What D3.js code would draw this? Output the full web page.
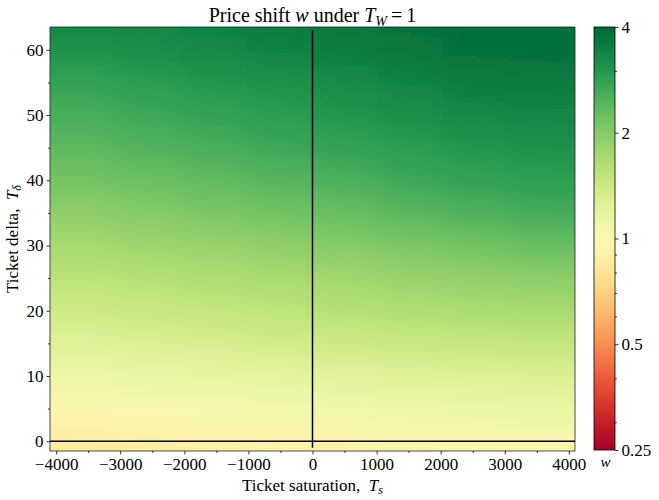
<!DOCTYPE html>
<html><head><meta charset="utf-8">
<script src="https://cdn.jsdelivr.net/npm/d3@7"></script>
<style>
body{margin:0;background:#fff;}
svg text{font-family:"Liberation Serif","Times New Roman",serif !important;fill:#000;}
</style></head>
<body><svg id="chart" width="659" height="500"></svg>
<script>
// ---- data ----
const tsCols = [-3584, -2560, -1536, -512, 512, 1536, 2560, 3584];
const deltaRows = [-1, 0, 5, 10, 15, 20, 25, 30, 35, 40, 45, 50, 55, 60, 63];
const w_dm1 = [0.835, 0.859, 0.883, 0.907, 0.933, 0.946, 0.959, 0.973];
const w_d0  = [0.871, 0.895, 0.920, 0.933, 0.946, 0.973, 0.986, 1.000];
const w_d5  = [0.973, 1.000, 1.028, 1.057, 1.087, 1.117, 1.133, 1.149];
const w_d10 = [1.117, 1.149, 1.165, 1.198, 1.231, 1.248, 1.265, 1.283];
const w_d15 = [1.248, 1.283, 1.320, 1.357, 1.395, 1.434, 1.454, 1.474];
const w_d20 = [1.395, 1.434, 1.474, 1.516, 1.580, 1.625, 1.670, 1.693];
const w_d25 = [1.537, 1.580, 1.647, 1.693, 1.765, 1.840, 1.892, 1.945];
const w_d30 = [1.717, 1.790, 1.840, 1.918, 2.000, 2.085, 2.173, 2.265];
const w_d35 = [1.918, 2.000, 2.085, 2.173, 2.265, 2.395, 2.496, 2.602];
const w_d40 = [2.143, 2.234, 2.329, 2.428, 2.531, 2.676, 2.789, 2.868];
const w_d45 = [2.362, 2.462, 2.566, 2.676, 2.789, 2.908, 3.031, 3.116];
const w_d50 = [2.566, 2.676, 2.789, 2.908, 3.031, 3.160, 3.294, 3.340];
const w_d55 = [2.789, 2.908, 3.031, 3.116, 3.249, 3.386, 3.531, 3.580];
const w_d60 = [3.100, 3.190, 3.300, 3.420, 3.530, 3.680, 3.800, 3.837];
const w_d63 = [3.250, 3.320, 3.420, 3.540, 3.640, 3.760, 3.850, 3.837];
const xTicks = [-4000, -3000, -2000, -1000, 0, 1000, 2000, 3000, 4000];
const xMinorTicks = [-3500, -2500, -1500, -500, 500, 1500, 2500, 3500];
const yTicks = [0, 10, 20, 30, 40, 50, 60];
const yMinorTicks = [5, 15, 25, 35, 45, 55];
const cbTicks = [0.25, 0.5, 1, 2, 4];
const cbTickLabels = ["0.25", "0.5", "1", "2", "4"];
const cbMinorTicks = [0.3, 0.4, 0.6, 0.7, 0.8, 0.9, 3];

const wGrid = [w_dm1, w_d0, w_d5, w_d10, w_d15, w_d20, w_d25, w_d30, w_d35, w_d40, w_d45, w_d50, w_d55, w_d60, w_d63];

// ---- layout ----
const FONT = "Liberation Serif";
const svg = d3.select("#chart");
const L = 50, R = 575, T = 27, B = 451;
const x = d3.scaleLinear().domain([-4096, 4096]).range([L, R]);
const y = d3.scaleLinear().domain([-1.5, 63.5]).range([B, T]);
const color = d3.scaleSequentialLog(d3.interpolateRdYlGn).domain([0.25, 4]);
const colStep = 1024;

const defs = svg.append("defs");
defs.append("clipPath").attr("id", "plotclip").append("rect")
  .attr("x", L).attr("y", T).attr("width", R - L).attr("height", B - T);
defs.append("filter").attr("id", "hblur").attr("filterUnits", "userSpaceOnUse")
  .attr("x", L - 150).attr("y", T - 10).attr("width", R - L + 300).attr("height", B - T + 20)
  .append("feGaussianBlur").attr("stdDeviation", "16 0");

// gradient per column (vertical, stops at the data rows)
const gy0 = y(deltaRows[0]), gy1 = y(deltaRows[deltaRows.length - 1]);
tsCols.forEach((c, ci) => {
  const g = defs.append("linearGradient").attr("id", "col" + ci)
    .attr("gradientUnits", "userSpaceOnUse")
    .attr("x1", 0).attr("x2", 0).attr("y1", gy0).attr("y2", gy1);
  deltaRows.forEach((d, ri) => {
    g.append("stop").attr("offset", (y(d) - gy0) / (gy1 - gy0))
      .attr("stop-color", color(wGrid[ri][ci]));
  });
});

const plot = svg.append("g").attr("clip-path", "url(#plotclip)");
const heat = plot.append("g").attr("filter", "url(#hblur)");
const last = tsCols.length - 1;
heat.selectAll("rect.col").data(tsCols).join("rect").attr("class", "col")
  .attr("x", (d, i) => (i === 0 ? x(d - colStep / 2) - 120 : x(d - colStep / 2)) - 0.5)
  .attr("width", (d, i) => x(d + colStep / 2) - x(d - colStep / 2) + 1 + (i === 0 || i === last ? 120 : 0))
  .attr("y", T).attr("height", B - T)
  .attr("fill", (d, i) => "url(#col" + i + ")");

// reference lines
plot.append("line").attr("x1", x(-4096)).attr("x2", x(4096))
  .attr("y1", y(0)).attr("y2", y(0)).attr("stroke", "#000").attr("stroke-width", 1.5);
plot.append("line").attr("x1", x(0)).attr("x2", x(0))
  .attr("y1", y(-1)).attr("y2", y(63)).attr("stroke", "#000").attr("stroke-width", 1.5);

// frame
svg.append("rect").attr("x", L).attr("y", T).attr("width", R - L).attr("height", B - T)
  .attr("fill", "none").attr("stroke", "#222").attr("stroke-width", 0.8);

// axes
const fs = 17;
function styleAxis(g) {
  g.attr("font-family", FONT).attr("font-size", fs);
  g.select(".domain").remove();
  g.selectAll(".tick line").attr("stroke", "#000").attr("stroke-width", 0.8);
  g.selectAll(".tick text").attr("font-family", FONT).attr("font-size", fs);
}
svg.append("g").attr("transform", `translate(0,${B})`)
  .call(d3.axisBottom(x).tickValues(xTicks).tickSize(3.5).tickPadding(3)
    .tickFormat(d => d < 0 ? "\u2212" + Math.abs(d) : String(d))).call(styleAxis);
svg.append("g").attr("transform", `translate(0,${B})`)
  .call(d3.axisBottom(x).tickValues(xMinorTicks).tickSize(2).tickFormat("")).call(styleAxis);
svg.append("g").attr("transform", `translate(${L},0)`)
  .call(d3.axisLeft(y).tickValues(yTicks).tickSize(3.5).tickPadding(3)).call(styleAxis);
svg.append("g").attr("transform", `translate(${L},0)`)
  .call(d3.axisLeft(y).tickValues(yMinorTicks).tickSize(2).tickFormat("")).call(styleAxis);

// colorbar
const CL = 594, CR = 615, CT = 27, CB = 450;
const cy = d3.scaleLog().domain([0.25, 4]).range([CB, CT]);
const cg = defs.append("linearGradient").attr("id", "cbgrad")
  .attr("x1", 0).attr("x2", 0).attr("y1", 1).attr("y2", 0);
d3.range(0, 1.0001, 0.02).forEach(f => {
  cg.append("stop").attr("offset", f).attr("stop-color", color(cy.invert(CB - f * (CB - CT))));
});
svg.append("rect").attr("x", CL).attr("y", CT).attr("width", CR - CL).attr("height", CB - CT)
  .attr("fill", "url(#cbgrad)").attr("stroke", "#000").attr("stroke-width", 0.8);
svg.append("g").attr("transform", `translate(${CR},0)`)
  .call(d3.axisRight(cy).tickValues(cbTicks).tickSize(3.5).tickPadding(3)
    .tickFormat((d, i) => cbTickLabels[i])).call(styleAxis);
svg.append("g").attr("transform", `translate(${CR},0)`)
  .call(d3.axisRight(cy).tickValues(cbMinorTicks).tickSize(2).tickFormat("")).call(styleAxis);
svg.append("text").attr("x", (CL + CR) / 2 + 1).attr("y", 467).attr("text-anchor", "middle")
  .attr("font-family", FONT).style("font-style", "italic").style("font-size", "15px").text("w");

// title
const title = svg.append("text").attr("x", (L + R) / 2).attr("y", 22).attr("text-anchor", "middle")
  .attr("font-family", FONT).style("font-size", "20px");
title.append("tspan").text("Price shift ");
title.append("tspan").style("font-style", "italic").text("w");
title.append("tspan").text(" under ");
title.append("tspan").style("font-style", "italic").text("T");
title.append("tspan").style("font-style", "italic").style("font-size", "14px").attr("dy", 4).text("W");
title.append("tspan").attr("dy", -4).text("\u2009=\u20091");

// axis labels
const xl = svg.append("text").attr("x", (L + R) / 2).attr("y", 491).attr("text-anchor", "middle")
  .attr("font-family", FONT).style("font-size", fs + "px");
xl.append("tspan").text("Ticket saturation,\u00a0 ");
xl.append("tspan").style("font-style", "italic").text("T");
xl.append("tspan").style("font-style", "italic").style("font-size", "12px").attr("dy", 3).text("s");

const yl = svg.append("text").attr("transform", `translate(18,${(T + B) / 2}) rotate(-90)`)
  .attr("text-anchor", "middle").attr("font-family", FONT).style("font-size", fs + "px");
yl.append("tspan").text("Ticket delta,\u00a0 ");
yl.append("tspan").style("font-style", "italic").text("T");
yl.append("tspan").style("font-style", "italic").style("font-size", "12px").attr("dy", 3).text("\u03b4");
</script></body></html>
